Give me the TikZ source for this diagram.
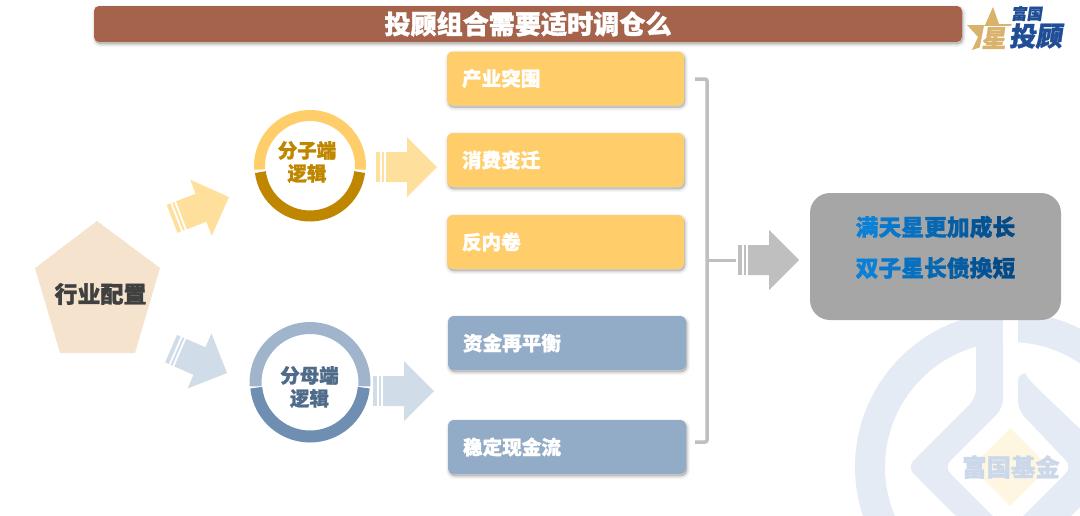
\documentclass[tikz,border=0pt]{standalone}
\usepackage{fontspec}
\setmainfont{Noto Sans CJK SC}[BoldFeatures={FakeBold=1.2}]
\definecolor{titlebar}{HTML}{A5634C}
\definecolor{yelbox}{HTML}{FFCD69}
\definecolor{blubox}{HTML}{92ABC6}
\definecolor{yelarrow}{HTML}{FFDF9C}
\definecolor{bluarrow}{HTML}{D0DCE8}
\definecolor{grayline}{HTML}{BFBFBF}
\definecolor{brown}{HTML}{BF8600}
\definecolor{ringblue}{HTML}{A0B5CC}
\definecolor{ringdark}{HTML}{6F8FB2}
\definecolor{txtblue}{HTML}{4F6B8A}
\definecolor{wm}{HTML}{E4EBF5}
\definecolor{wmtext}{HTML}{CBD8EA}
\definecolor{wmdia}{HTML}{FFF6E2}
\definecolor{pent}{HTML}{F5E3CE}
\definecolor{resbox}{HTML}{A6A6A6}
\definecolor{logoblue}{HTML}{1F4E96}
\definecolor{logogold}{HTML}{D9B36B}
\definecolor{ga}{HTML}{0A80D8}
\definecolor{gb}{HTML}{0978CC}
\definecolor{gc}{HTML}{0770C0}
\definecolor{gd}{HTML}{0667B2}
\definecolor{ge}{HTML}{055EA4}
\definecolor{gf}{HTML}{035496}
\definecolor{gg}{HTML}{024A88}
\tikzset{
  softshadow/.style={
    preaction={fill=black,fill opacity=.04,draw=black,draw opacity=.04,line width=6pt,transform canvas={shift={(1pt,-2pt)}}},
    preaction={fill=black,fill opacity=.05,draw=black,draw opacity=.05,line width=3.5pt,transform canvas={shift={(1pt,-2pt)}}},
    preaction={fill=black,fill opacity=.07,draw=black,draw opacity=.07,line width=1pt,transform canvas={shift={(1pt,-2pt)}}}},
  txtbox/.style={softshadow,rounded corners=6pt,minimum height=54pt,inner sep=0pt,inner xsep=15pt,align=left,text=white,font=\bfseries\fontsize{19.6}{21}\selectfont,anchor=center},
  yelstyle/.style={txtbox,fill=yelbox,text width=207pt},
  blustyle/.style={txtbox,fill=blubox,text width=208pt},
  ringtext/.style={align=center,font=\bfseries\fontsize{19.5}{23}\selectfont,inner sep=0pt},
  restext/.style={inner sep=0pt,font=\bfseries\fontsize{22.8}{24}\selectfont},
  blockarrow/.pic={
    \fill[pic actions] (-61,-15) rectangle (-57,15);
    \fill[pic actions] (-55,-15) rectangle (-53,15);
    \fill[pic actions] (-51,-15) -- (-30,-15) -- (-30,-30) -- (0,0) -- (-30,30) -- (-30,15) -- (-51,15) -- cycle;
  },
}
\begin{document}
\begin{tikzpicture}[x=1pt,y=-1pt]
\useasboundingbox (0,0) rectangle (1080,515);
% watermark
\begin{scope}
\clip (0,0) rectangle (1080,515);
\coordinate (wmc) at (1010,467);
\draw[wm,line width=30pt] (wmc) circle[radius=140pt];
\fill[white] (1003,300) rectangle (1018,378);
\fill[wm,rounded corners=9pt] (976,335) -- (1003,335) -- (1003,408) -- (944,467) -- (1010,533) -- (973,533) -- (907,467) -- (976,398) -- cycle;
\fill[wm,rounded corners=9pt] (1018,372) .. controls (1024,373) and (1028,378) .. (1033,384) -- (1120,467) -- (1054,533) -- (1006,533) -- (1072,467) -- (1018,410) -- cycle;
\fill[wmdia] (1010,428) -- (1049,467) -- (1010,506) -- (971,467) -- cycle;
\node[text=wmtext,font=\fontsize{24.4}{26}\selectfont,inner sep=0pt] (wmlabel) at (1011,467) {\bfseries 富国基金};
\end{scope}
% title
\node[softshadow,fill=titlebar,rounded corners=5pt,minimum width=868pt,minimum height=36pt,inner sep=0pt,text=white,font=\bfseries\fontsize{26.1}{28}\selectfont] (title) at (528,24) {投顾组合需要适时调仓么};
% logo
\fill[logogold] (993,7) -- (999,24) -- (1012,24) -- (1003,37) -- (1005,50) -- (990,44) -- (972,50) -- (978,37) -- (967,25) -- (985,25) -- cycle;
\fill[white] (984,26) -- (1014,26) -- (1010,52) -- (979,52) -- cycle;
\node[text=logogold,font=\bfseries\fontsize{24.5}{26}\selectfont,inner sep=0pt,xslant=.15] (logostar) at (995,38) {星};
\node[text=logoblue,font=\bfseries\fontsize{26.5}{28}\selectfont,inner sep=0pt,xslant=.15] (logotou) at (1037,36) {投顾};
\node[text=logoblue,font=\bfseries\fontsize{15.5}{17}\selectfont,inner sep=0pt,xslant=.15] (logofu) at (1027.5,13.5) {富国};
% pentagon
\fill[pent] (97,221) -- (160,268) -- (135,353) -- (60,353) -- (35,268) -- cycle;
\node[text=black!75,font=\bfseries\fontsize{23}{25}\selectfont,inner sep=0pt] (industry) at (100.5,294) {行业配置};
% arrows
\pic[fill=yelarrow,rotate=21] at (229,197) {blockarrow};
\pic[fill=bluarrow,rotate=-23.5] at (227,373) {blockarrow};
\pic[fill=yelarrow] at (437,167) {blockarrow};
\pic[fill=bluarrow] at (434,391) {blockarrow};
% rings
\node[ringtext,text=brown] (numer) at (307,162) {分子端\\逻辑};
\coordinate (numc) at (310,166);
\draw[yelbox,line width=11pt] ([shift={(184:50.5pt)}]numc) arc[start angle=184,end angle=-4,radius=50.5pt];
\draw[brown,line width=11pt] ([shift={(187:50pt)}]numc) arc[start angle=187,end angle=353,radius=50pt];
\node[ringtext,text=txtblue] (denom) at (309.5,387) {分母端\\逻辑};
\coordinate (denc) at (310,382.5);
\draw[ringblue,line width=12pt] ([shift={(184:54.5pt)}]denc) arc[start angle=184,end angle=-4,radius=54.5pt];
\draw[ringdark,line width=12pt] ([shift={(185.5:54pt)}]denc) arc[start angle=185.5,end angle=354.5,radius=54pt];
% boxes
\node[yelstyle] (b1) at (565.5,78.5) {产业突围};
\node[yelstyle] (b2) at (565.5,160) {\raisebox{1pt}{消费变迁}};
\node[yelstyle] (b3) at (565.5,242) {\raisebox{1pt}{反内卷}};
\node[blustyle] (b4) at (567,343) {\raisebox{2pt}{资金再平衡}};
\node[blustyle] (b5) at (567,447) {\raisebox{1pt}{稳定现金流}};
% bracket
\coordinate (brtop) at (695,79);
\coordinate (brbot) at (695,442);
\coordinate (brmid) at (707,260);
\coordinate (brout) at (736,260);
\draw[grayline,line width=3.5pt,rounded corners=2pt] (brtop) -- (707,79) -- (707,442) -- (brbot);
\draw[grayline,line width=3pt] (brmid) -- (brout);
\pic[fill=grayline] at (799,260) {blockarrow};
% result
\node[fill=resbox,rounded corners=20pt,minimum width=251pt,minimum height=127pt,inner sep=0pt] (result) at (935.5,256.5) {};
\node[restext] (res1) at (935.5,227) {\textcolor{ga}{满}\textcolor{gb}{天}\textcolor{gc}{星}\textcolor{gd}{更}\textcolor{ge}{加}\textcolor{gf}{成}\textcolor{gg}{长}};
\node[restext] (res2) at (935.5,268) {\textcolor{ga}{双}\textcolor{gb}{子}\textcolor{gc}{星}\textcolor{gd}{长}\textcolor{ge}{债}\textcolor{gf}{换}\textcolor{gg}{短}};
\end{tikzpicture}
\end{document}
